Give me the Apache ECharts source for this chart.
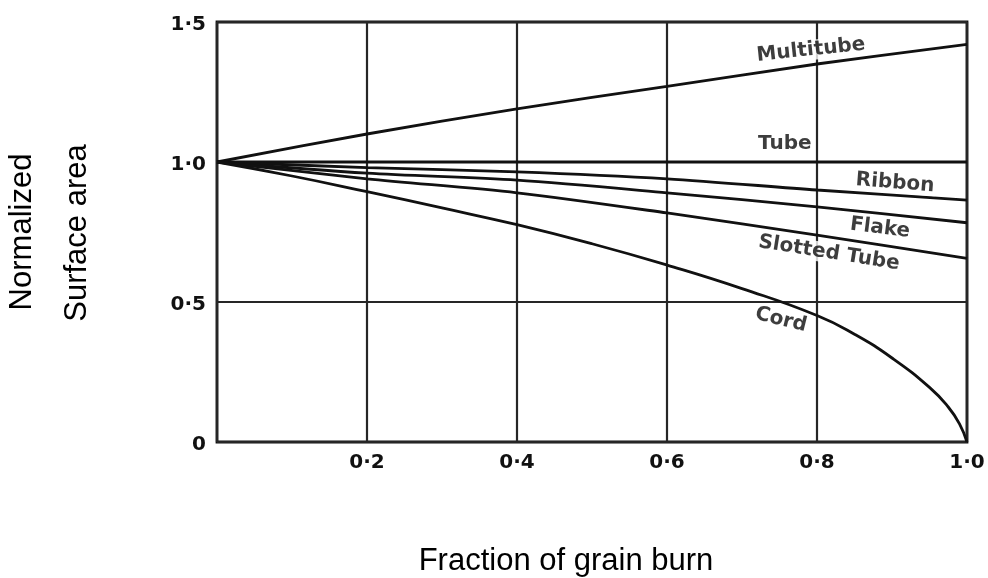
<!DOCTYPE html>
<html>
<head>
<meta charset="utf-8">
<script src="https://cdn.jsdelivr.net/npm/echarts@6/dist/echarts.min.js"></script>
<style>
  html, body { margin: 0; padding: 0; background: #fff; }
  #chart { width: 988px; height: 578px; }
</style>
</head>
<body>
<div id="chart"></div>
<script>
// Fraction of the grain burned (x) and the surface area normalised to its initial value (y)
const burnFraction = [0, 0.2, 0.4, 0.6, 0.8, 1.0];
const multitube   = [1.0, 1.10, 1.19, 1.27, 1.35, 1.42];
const tube        = [1.0, 1.0, 1.0, 1.0, 1.0, 1.0];
const ribbon      = [1.0, 0.98, 0.965, 0.94, 0.90, 0.864];
const flake       = [1.0, 0.96, 0.935, 0.89, 0.84, 0.783];
const slottedTube = [1.0, 0.94, 0.89, 0.818, 0.739, 0.656];

// The cord curve bends sharply near burn-out, so it is sampled more densely
const cordFraction = [0, 0.1, 0.2, 0.3, 0.4, 0.5, 0.6, 0.7, 0.8, 0.85, 0.9, 0.95, 0.975, 0.99, 1.0];
const cord         = [1.0, 0.95, 0.894, 0.836, 0.776, 0.708, 0.632, 0.548, 0.452, 0.385, 0.30, 0.195, 0.125, 0.065, 0];

const xTickLabels = ['', '0·2', '0·4', '0·6', '0·8', '1·0'];
const yTickLabels = ['0', '0·5', '1·0', '1·5'];

const grainNames = ['Multitube', 'Tube', 'Ribbon', 'Flake', 'Slotted Tube', 'Cord'];

// Where each grain name sits, in data coordinates, and its tilt along the curve
const nameAnchors = [
  { x: 0.792, y: 1.400, rotate: 6 },
  { x: 0.757, y: 1.064, rotate: 0 },
  { x: 0.904, y: 0.925, rotate: -4.5 },
  { x: 0.884, y: 0.764, rotate: -7 },
  { x: 0.816, y: 0.675, rotate: -9 },
  { x: 0.752, y: 0.436, rotate: -14 }
];

const INK = '#111111';
const GRID_INK = '#262626';
const LABEL_FONT = '"DejaVu Sans", sans-serif';
const TITLE_FONT = '"Liberation Sans", Arial, sans-serif';

function pairs(xs, ys) {
  return xs.map((x, i) => [x, ys[i]]);
}

function curve(name, xs, ys, smooth) {
  return {
    name: name,
    type: 'line',
    data: pairs(xs, ys),
    smooth: smooth,
    showSymbol: false,
    symbol: 'none',
    silent: true,
    lineStyle: { color: INK, width: 2.8 },
    z: 3
  };
}

const chart = echarts.init(document.getElementById('chart'), null, { renderer: 'canvas' });

chart.setOption({
  animation: false,
  backgroundColor: '#ffffff',
  grid: {
    left: 217, top: 22, width: 750, height: 420,
    show: true, borderColor: INK, borderWidth: 2.8, backgroundColor: 'transparent'
  },
  xAxis: {
    type: 'value', min: 0, max: 1, interval: 0.2,
    axisLine: { show: false },
    axisTick: { show: false },
    splitLine: { show: true, lineStyle: { color: GRID_INK, width: 2.2 } },
    axisLabel: {
      margin: 11,
      color: '#111',
      fontFamily: LABEL_FONT, fontWeight: 'bold', fontSize: 20,
      formatter: (v) => xTickLabels[Math.round(v / 0.2)]
    }
  },
  yAxis: {
    type: 'value', min: 0, max: 1.5, interval: 0.5,
    axisLine: { show: false },
    axisTick: { show: false },
    splitLine: { show: true, lineStyle: { color: GRID_INK, width: 2.2 } },
    axisLabel: {
      margin: 11,
      color: '#111',
      fontFamily: LABEL_FONT, fontWeight: 'bold', fontSize: 20,
      verticalAlign: 'top',
      padding: [-7, 0, 0, 0],
      formatter: (v) => yTickLabels[Math.round(v / 0.5)]
    }
  },
  series: [
    curve('Multitube', burnFraction, multitube, 0.3),
    curve('Tube', burnFraction, tube, false),
    curve('Ribbon', burnFraction, ribbon, 0.3),
    curve('Flake', burnFraction, flake, 0.3),
    curve('Slotted Tube', burnFraction, slottedTube, 0.3),
    curve('Cord', cordFraction, cord, 0.5),
    {
      // grain names written on the curves, with a white ground that breaks the grid lines
      name: 'names',
      type: 'scatter',
      symbolSize: 0,
      silent: true,
      z: 10,
      data: nameAnchors.map((a, i) => ({
        value: [a.x, a.y],
        label: {
          show: true,
          position: 'inside',
          rotate: a.rotate,
          formatter: grainNames[i]
        }
      })),
      label: {
        color: '#0d0d0d',
        fontFamily: LABEL_FONT,
        fontWeight: 'bold',
        fontSize: 20,
        backgroundColor: '#ffffff',
        padding: [0, 1, 0, 1]
      }
    }
  ],
  graphic: [
    {
      type: 'text', x: 22, y: 232, rotation: Math.PI / 2,
      style: {
        text: 'Normalized', fill: '#000',
        font: '31px ' + TITLE_FONT, textAlign: 'center', textVerticalAlign: 'middle'
      }
    },
    {
      type: 'text', x: 77, y: 233, rotation: Math.PI / 2,
      style: {
        text: 'Surface area', fill: '#000',
        font: '31px ' + TITLE_FONT, textAlign: 'center', textVerticalAlign: 'middle'
      }
    },
    {
      type: 'text', x: 566, y: 561,
      style: {
        text: 'Fraction of grain burn', fill: '#000',
        font: '31px ' + TITLE_FONT, textAlign: 'center', textVerticalAlign: 'middle'
      }
    }
  ]
});
</script>
</body>
</html>
